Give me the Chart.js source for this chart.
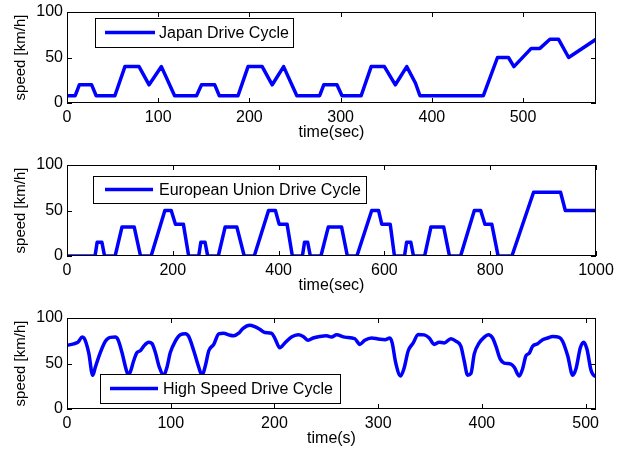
<!DOCTYPE html>
<html><head><meta charset="utf-8">
<script src="https://cdn.jsdelivr.net/npm/chart.js@4.4.0/dist/chart.umd.min.js"></script>
<style>
html,body{margin:0;padding:0;background:#fff;}
#wrap{position:relative;width:628px;height:457px;overflow:hidden;}
canvas{position:absolute;left:0;}
</style></head><body>
<div id="wrap">
<canvas id="c1" width="628" height="150" style="top:0px"></canvas>
<canvas id="c2" width="628" height="150" style="top:153px"></canvas>
<canvas id="c3" width="628" height="150" style="top:306px"></canvas>
</div>
<script>
// ---------- data ----------
const japanTime  = [0, 9, 13.5, 27, 32, 52.5, 63.5, 79, 90, 103.5, 118, 142, 147.5, 162, 167, 187.5, 198.5, 214, 225, 237.5, 252, 277, 281.5, 296, 301.5, 322.5, 333.5, 348, 360, 372.5, 382, 387, 456.5, 472, 484, 490, 509, 518.5, 529.5, 539, 550, 580];
const japanSpeed = [8, 8, 20, 20, 8, 8, 40, 40, 20, 40, 8, 8, 20, 20, 8, 8, 40, 40, 20, 40, 8, 8, 20, 20, 8, 8, 40, 40, 20, 40, 22, 8, 8, 50, 50, 40, 60, 60, 70, 70, 50, 70];

const euTime  = [0, 53, 57, 66, 71, 91, 104, 127, 139, 159, 185, 197, 205, 220, 230,
                 249, 253, 261, 266, 286, 299, 321, 335, 354, 381, 394, 401, 416, 426,
                 445, 449, 455, 460, 480, 494, 519, 530, 548, 576, 589, 595, 611, 619,
                 638, 642, 650, 655, 676, 688, 712, 723, 744, 770, 782, 790, 803, 815,
                 841, 882, 933, 942, 1000];
const euSpeed = [0, 0, 15, 15, 0, 0, 32, 32, 0, 0, 50, 50, 35, 35, 0,
                 0, 15, 15, 0, 0, 32, 32, 0, 0, 50, 50, 35, 35, 0,
                 0, 15, 15, 0, 0, 32, 32, 0, 0, 50, 50, 35, 35, 0,
                 0, 15, 15, 0, 0, 32, 32, 0, 0, 50, 50, 35, 35, 0,
                 0, 70, 70, 50, 50];

const hsTime  = [0, 6.4, 10.6, 14.5, 16.4, 20.9, 24.8, 27.3, 32.1, 37, 41.8, 46.6, 49.2, 53, 56.9, 58.8, 61, 64.3, 67.5, 70.7, 73.9, 78.7, 81.9, 85.2, 89, 93.2, 96.4, 99.6, 104.4, 109.3, 114.1, 117.3, 122.2, 127, 130.2, 133.5, 136.7, 141.5, 146.3, 151.1, 155.9, 160.8, 165.6, 169.8, 176.2, 181, 185.8, 190.7, 197.1, 200.3, 205.2, 210, 216.4, 222.8, 227.7, 232.5, 237.3, 243.7, 250.2, 255, 259.8, 267.9, 277.5, 282.3, 287.1, 293.6, 300, 306.5, 311.3, 313.5, 316.8, 321.6, 324.8, 329, 333.8, 338.5, 344.4, 349.2, 354, 358.8, 363.7, 370.1, 374.9, 379.7, 382.9, 386.2, 389.4, 392.6, 397.4, 402.3, 406.1, 410.3, 413.5, 417.7, 421.5, 428, 431.2, 436, 439.2, 442.5, 445.7, 448.9, 453.7, 458.5, 463.4, 468.2, 474.6, 477.8, 482.7, 487.5, 490.7, 494.9, 498.1, 501.3, 505.2, 508.4, 510];
const hsSpeed = [70, 71.6, 73.4, 79, 78, 62, 37, 46, 62, 74.5, 78.7, 79, 76, 62, 44, 38, 40.7, 53, 62, 64, 69, 73.4, 72, 62, 46, 37, 46, 62, 74.5, 81.5, 82.6, 79.7, 64, 46, 37, 48, 64, 71, 82.6, 83.3, 81.5, 80.5, 83.3, 88.7, 92, 90.4, 87.6, 84, 83.3, 78, 67.3, 72.6, 79, 81.5, 79.7, 75.5, 78, 79.7, 80.5, 79, 81.5, 79, 77.2, 71, 75.5, 78, 77, 76.2, 78, 72.6, 51.3, 36.4, 44.2, 64, 72.6, 82, 81.5, 78, 71, 73.4, 72.6, 77.2, 74.5, 69, 53, 37.2, 39, 60.3, 72.6, 79, 81.5, 78, 69, 54.8, 50.5, 49.4, 45.8, 36.2, 44, 58.5, 61.3, 69, 71.6, 76.2, 78, 79.7, 78.7, 74.5, 58.5, 37.2, 44.2, 67.3, 73.4, 65.6, 42.5, 36.4, 36];

const yTicks = [0, 50, 100];
const japanXTicks = [0, 100, 200, 300, 400, 500];
const euXTicks = [0, 200, 400, 600, 800, 1000];
const hsXTicks = [0, 100, 200, 300, 400, 500];
const legendLabels = ['Japan Drive Cycle', 'European Union Drive Cycle', 'High Speed Drive Cycle'];
const xTitles = ['time(sec)', 'time(sec)', 'time(s)'];
const yTitle = 'speed [km/h]';

// ---------- rendering ----------
const FONT = '"Liberation Sans", Arial, Helvetica, sans-serif';
Chart.defaults.font.family = FONT;
Chart.defaults.color = '#000';

const boxPlugin = {
  id: 'matlabBox',
  afterDatasetsDraw(chart, args, opts) {
    const ctx = chart.ctx;
    const b = opts.box;
    ctx.save();
    ctx.fillStyle = '#fff';
    ctx.fillRect(b.x1, b.y1, b.x2 - b.x1, b.y2 - b.y1);
    ctx.strokeStyle = '#000';
    ctx.lineWidth = 1;
    ctx.strokeRect(Math.round(b.x1) + 0.5, Math.round(b.y1) + 0.5, Math.round(b.x2 - b.x1), Math.round(b.y2 - b.y1));
    const ly = (b.y1 + b.y2) / 2;
    ctx.strokeStyle = '#0000ff';
    ctx.lineWidth = 3.5;
    ctx.beginPath();
    ctx.moveTo(b.lx1, ly);
    ctx.lineTo(b.lx2, ly);
    ctx.stroke();
    ctx.fillStyle = '#000';
    ctx.font = '16px ' + FONT;
    ctx.textBaseline = 'middle';
    ctx.textAlign = 'left';
    ctx.fillText(opts.text, b.tx, ly + 1);
    ctx.restore();
  },
  afterDraw(chart) {
    const ctx = chart.ctx;
    const a = chart.chartArea;
    const xs = chart.scales.x, ys = chart.scales.y;
    ctx.save();
    ctx.strokeStyle = '#000';
    ctx.lineWidth = 1;
    ctx.beginPath();
    xs.ticks.forEach(t => {
      const px = Math.round(xs.getPixelForValue(t.value)) + 0.5;
      ctx.moveTo(px, a.bottom); ctx.lineTo(px, a.bottom - 5);
      ctx.moveTo(px, a.top); ctx.lineTo(px, a.top + 5);
    });
    ys.ticks.forEach(t => {
      const py = Math.round(ys.getPixelForValue(t.value)) + 0.5;
      ctx.moveTo(a.left, py); ctx.lineTo(a.left + 5, py);
      ctx.moveTo(a.right, py); ctx.lineTo(a.right - 5, py);
    });
    ctx.stroke();
    ctx.strokeRect(Math.round(a.left) + 0.5, Math.round(a.top) + 0.5, Math.round(a.right - a.left) - 1, Math.round(a.bottom - a.top) - 1);
    ctx.restore();
  }
};

function makeChart(id, times, speeds, xMax, xTicks, xTitle, label, box, smooth) {
  const pts = times.map((t, i) => ({x: t, y: speeds[i]}));
  return new Chart(document.getElementById(id), {
    type: 'line',
    data: { datasets: [{
      label: label,
      data: pts,
      borderColor: '#0000ff',
      borderWidth: 3.5,
      pointRadius: 0,
      fill: false,
      tension: smooth ? 0.3 : 0,
      cubicInterpolationMode: smooth ? 'monotone' : 'default',
      borderJoinStyle: 'round',
      borderCapStyle: 'round'
    }]},
    options: {
      responsive: false,
      animation: false,
      devicePixelRatio: 1,
      layout: { padding: { top: 8, right: 32, bottom: 0, left: 0 } },
      plugins: {
        legend: { display: false },
        tooltip: { enabled: false },
        matlabBox: { text: label, box: box }
      },
      scales: {
        x: {
          type: 'linear', min: 0, max: xMax,
          afterBuildTicks: s => { s.ticks = xTicks.map(v => ({value: v})); },
          ticks: { padding: 5, maxRotation: 0, autoSkip: false,
                   callback: v => String(v),
                   font: { size: 16, lineHeight: 1.2 }, color: '#000' },
          grid: { display: false, drawTicks: false },
          border: { display: false },
          title: { display: true, text: xTitle, color: '#000', font: { size: 16, lineHeight: 1.2 },
                   padding: { top: 0, bottom: 8 } },
          afterFit: s => { s.height = 47; }
        },
        y: {
          min: 0, max: 100,
          afterBuildTicks: s => { s.ticks = yTicks.map(v => ({value: v})); },
          ticks: { padding: 4, font: { size: 16, lineHeight: 1 }, color: '#000',
                   callback: v => String(v) },
          grid: { display: false, drawTicks: false },
          border: { display: false },
          title: { display: true, text: yTitle, color: '#000', font: { size: 15, lineHeight: 1.2 },
                   padding: { top: 12, bottom: 0 } },
          afterFit: s => { s.width = 67; }
        }
      }
    },
    plugins: [boxPlugin]
  });
}

makeChart('c1', japanTime, japanSpeed, 580, japanXTicks, xTitles[0], legendLabels[0],
  {x1: 95, y1: 18, x2: 293, y2: 47, lx1: 105, lx2: 155, tx: 159}, false);
makeChart('c2', euTime, euSpeed, 1000, euXTicks, xTitles[1], legendLabels[1],
  {x1: 93, y1: 23, x2: 366, y2: 50, lx1: 105, lx2: 153, tx: 159}, false);
makeChart('c3', hsTime, hsSpeed, 510, hsXTicks, xTitles[2], legendLabels[2],
  {x1: 100, y1: 68, x2: 340, y2: 97, lx1: 110, lx2: 158, tx: 163}, true);
</script>
</body></html>
